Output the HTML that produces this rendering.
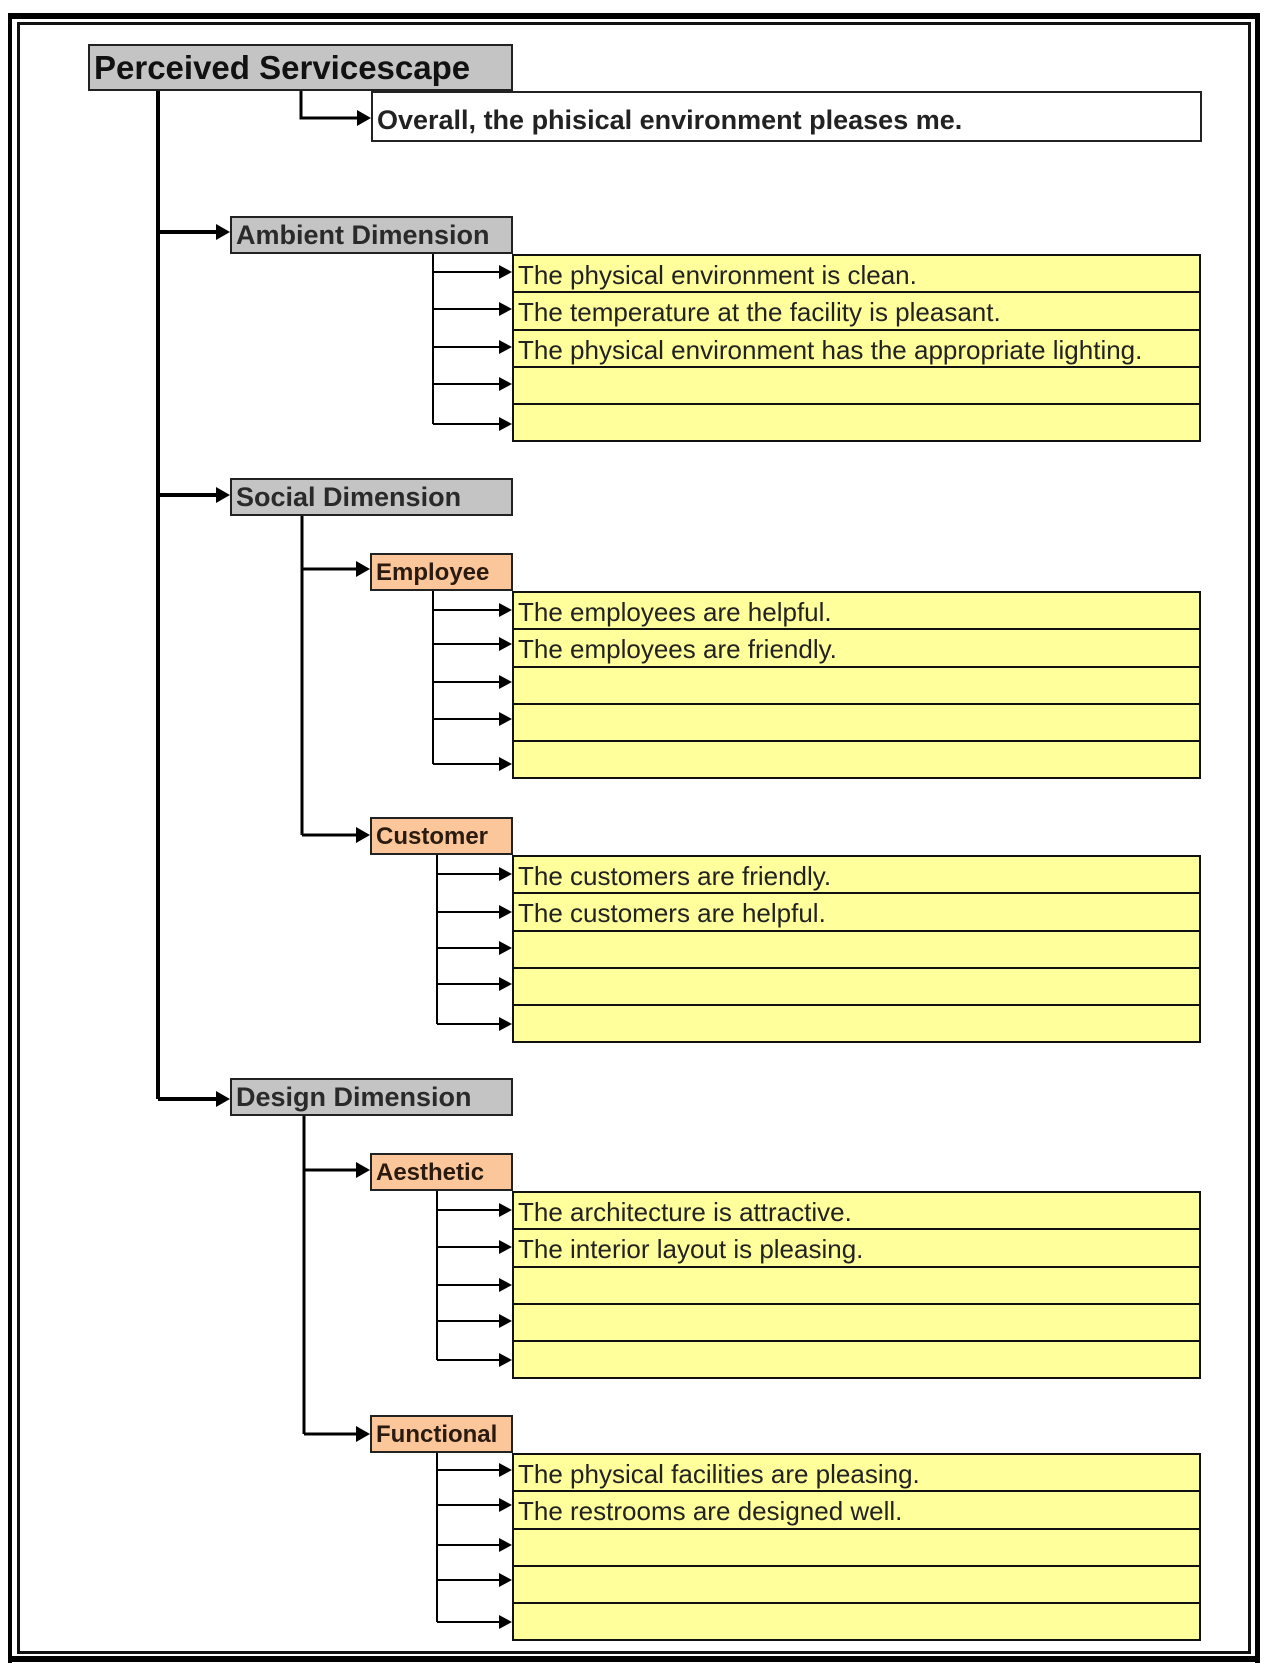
<!DOCTYPE html>
<html><head><meta charset="utf-8"><style>
html,body{margin:0;padding:0;background:#fff;}
body{width:1267px;height:1667px;position:relative;overflow:hidden;font-family:"Liberation Sans",Arial,sans-serif;}
.abs{position:absolute;box-sizing:border-box;}
.gray{background:#c4c4c4;border:2px solid #222;color:#2a2a2a;font-weight:bold;font-size:27px;padding-left:4px;line-height:35px;white-space:nowrap;overflow:hidden;}
.peach{background:#fbc699;border:2px solid #222;color:#2a1a10;font-weight:bold;font-size:24px;padding-left:4px;line-height:35px;white-space:nowrap;overflow:hidden;}
.grp{left:512px;width:689px;border:2px solid #111;border-top:none;}
.row{height:37.3px;box-sizing:border-box;border-top:2px solid #111;background:#ffff9c;font-size:26px;line-height:38px;padding-left:4px;color:#222;white-space:nowrap;}
</style></head><body>
<div class="abs" style="left:8px;top:13px;width:1252px;height:650px;border-top:6px solid #000;"></div>
<div class="abs" style="left:8px;top:13px;width:4px;height:1650px;background:#000;"></div>
<div class="abs" style="left:17px;top:22px;width:1234px;height:1632px;border:3px solid #111;"></div>
<div class="abs" style="left:1255px;top:13px;width:5px;height:1650px;background:#000;"></div>
<div class="abs" style="left:8px;top:1656px;width:1252px;height:6px;background:#000;"></div>

<div class="abs gray" style="left:88px;top:44px;width:425px;height:47px;font-size:33px;line-height:44px;color:#111;">Perceived Servicescape</div>
<div class="abs" style="left:371px;top:91px;width:831px;height:51px;border:2px solid #222;font-size:27px;font-weight:bold;line-height:54px;padding-left:4px;color:#222;white-space:nowrap;">Overall, the phisical environment pleases me.</div>

<div class="abs gray" style="left:230px;top:216px;width:283px;height:38px;">Ambient Dimension</div>
<div class="abs gray" style="left:230px;top:478px;width:283px;height:38px;">Social Dimension</div>
<div class="abs gray" style="left:230px;top:1078px;width:283px;height:38px;">Design Dimension</div>

<div class="abs peach" style="left:370px;top:553px;width:143px;height:38px;">Employee</div>
<div class="abs peach" style="left:370px;top:817px;width:143px;height:38px;">Customer</div>
<div class="abs peach" style="left:370px;top:1153px;width:143px;height:38px;">Aesthetic</div>
<div class="abs peach" style="left:370px;top:1415px;width:143px;height:38px;">Functional</div>

<div class="abs grp" style="top:254px;"><div class="row">The physical environment is clean.</div><div class="row">The temperature at the facility is pleasant.</div><div class="row">The physical environment has the appropriate lighting.</div><div class="row"></div><div class="row"></div></div>
<div class="abs grp" style="top:591px;"><div class="row">The employees are helpful.</div><div class="row">The employees are friendly.</div><div class="row"></div><div class="row"></div><div class="row"></div></div>
<div class="abs grp" style="top:855px;"><div class="row">The customers are friendly.</div><div class="row">The customers are helpful.</div><div class="row"></div><div class="row"></div><div class="row"></div></div>
<div class="abs grp" style="top:1191px;"><div class="row">The architecture is attractive.</div><div class="row">The interior layout is pleasing.</div><div class="row"></div><div class="row"></div><div class="row"></div></div>
<div class="abs grp" style="top:1453px;"><div class="row">The physical facilities are pleasing.</div><div class="row">The restrooms are designed well.</div><div class="row"></div><div class="row"></div><div class="row"></div></div>

<svg class="abs" style="left:0;top:0" width="1267" height="1667" viewBox="0 0 1267 1667">
<g stroke="#000" fill="none">
<path d="M158 91 V1099 M158 232 H218 M158 495 H218 M158 1099 H218" stroke-width="4"/>
<path d="M301 91 V118 H359" stroke-width="3"/>
<path d="M302 516 V835 M302 569 H358 M302 835 H358" stroke-width="3"/>
<path d="M304 1116 V1434 M304 1170 H358 M304 1434 H358" stroke-width="3"/>
<path d="M433 254 V424 M433 272H502 M433 309H502 M433 347H502 M433 384H502 M433 424H502" stroke-width="2"/>
<path d="M433 591 V764 M433 610H502 M433 644H502 M433 682H502 M433 719H502 M433 764H502" stroke-width="2"/>
<path d="M437 855 V1024 M437 874H502 M437 912H502 M437 948H502 M437 984H502 M437 1024H502" stroke-width="2"/>
<path d="M437 1191 V1360 M437 1210H502 M437 1247H502 M437 1285H502 M437 1321H502 M437 1360H502" stroke-width="2"/>
<path d="M437 1453 V1622 M437 1470H502 M437 1505H502 M437 1545H502 M437 1580H502 M437 1622H502" stroke-width="2"/>
</g>
<g fill="#000">
<path d="M216 224 L230 232 L216 240Z"/><path d="M216 487 L230 495 L216 503Z"/><path d="M216 1091 L230 1099 L216 1107Z"/>
<path d="M357 110 L371 118 L357 126Z"/>
<path d="M356 561 L370 569 L356 577Z"/><path d="M356 827 L370 835 L356 843Z"/>
<path d="M356 1162 L370 1170 L356 1178Z"/><path d="M356 1426 L370 1434 L356 1442Z"/>
<path d="M499 265L512 272L499 279Z M499 302L512 309L499 316Z M499 340L512 347L499 354Z M499 377L512 384L499 391Z M499 417L512 424L499 431Z"/>
<path d="M499 603L512 610L499 617Z M499 637L512 644L499 651Z M499 675L512 682L499 689Z M499 712L512 719L499 726Z M499 757L512 764L499 771Z"/>
<path d="M499 867L512 874L499 881Z M499 905L512 912L499 919Z M499 941L512 948L499 955Z M499 977L512 984L499 991Z M499 1017L512 1024L499 1031Z"/>
<path d="M499 1203L512 1210L499 1217Z M499 1240L512 1247L499 1254Z M499 1278L512 1285L499 1292Z M499 1314L512 1321L499 1328Z M499 1353L512 1360L499 1367Z"/>
<path d="M499 1463L512 1470L499 1477Z M499 1498L512 1505L499 1512Z M499 1538L512 1545L499 1552Z M499 1573L512 1580L499 1587Z M499 1615L512 1622L499 1629Z"/>
</g>
</svg>
</body></html>
